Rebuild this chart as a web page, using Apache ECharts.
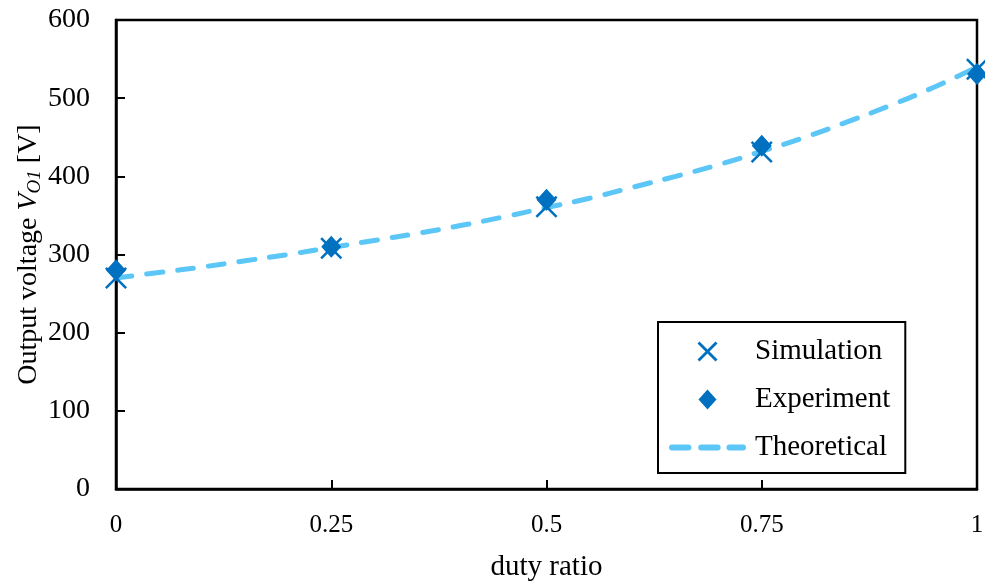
<!DOCTYPE html>
<html>
<head>
<meta charset="utf-8">
<script src="https://cdn.jsdelivr.net/npm/echarts@6/dist/echarts.min.js"></script>
<style>html,body{margin:0;padding:0;background:#fff}#c{width:985px;height:585px}</style>
</head>
<body>
<div id="c"></div>
<script>
var dutyPoints = [0, 0.25, 0.5, 0.75, 1];
var simulation = [270, 308, 361, 431, 537];
var experiment = [280, 310, 370, 439, 531];
var theoryDuty = [0, 0.05, 0.1, 0.15, 0.2, 0.25, 0.3, 0.35, 0.4, 0.45, 0.5, 0.55, 0.6, 0.65, 0.7, 0.75, 0.8, 0.85, 0.9, 0.95, 1];
var theoryV = [270, 277, 284, 292, 300, 309, 318, 327, 337, 348, 360, 372, 386, 400, 415, 432, 450, 470, 491, 514, 540];
var yTicks = [0, 100, 200, 300, 400, 500, 600];
var xTicks = [0, 0.25, 0.5, 0.75, 1];

function pairs(xs, ys) { return xs.map(function (x, i) { return [x, ys[i]]; }); }

var FONT = '"Liberation Serif", "Times New Roman", serif';
var crossPath = 'path://M0,8L8,0L50,42L92,0L100,8L58,50L100,92L92,100L50,58L8,100L0,92L42,50Z';
var crossIcon = 'path://M0,10L10,0L50,40L90,0L100,10L60,50L100,90L90,100L50,60L10,100L0,90L40,50Z';
var diamondIcon = 'path://M9,0L18,10L9,20L0,10Z';
var dashIcon = 'path://M3,0L20,0A3,3 0 0 1 20,6L3,6A3,3 0 0 1 3,0Z' +
  'M33,0L50,0A3,3 0 0 1 50,6L33,6A3,3 0 0 1 33,0Z' +
  'M62,0L76,0A3,3 0 0 1 76,6L62,6A3,3 0 0 1 62,0Z';

var chart = echarts.init(document.getElementById('c'), null, {renderer: 'canvas'});
chart.setOption({
  animation: false,
  backgroundColor: '#fff',
  textStyle: {fontFamily: FONT, color: '#000'},
  grid: {left: 116, right: 8, top: 20, bottom: 96, containLabel: false, outerBoundsMode: 'none',
    show: true, borderColor: '#000', borderWidth: 2.5, backgroundColor: 'transparent'},
  xAxis: {
    type: 'value', min: 0, max: 1, interval: 0.25,
    name: 'duty ratio', nameLocation: 'middle', nameGap: 64, nameMoveOverlap: false,
    nameTextStyle: {fontFamily: FONT, fontSize: 29, color: '#000'},
    axisLine: {show: true, lineStyle: {color: '#000', width: 2.5}},
    axisTick: {show: true, inside: true, length: 9, lineStyle: {color: '#000', width: 2}},
    axisLabel: {fontFamily: FONT, fontSize: 25, color: '#000', margin: 24,
      formatter: function (v) { return String(xTicks[Math.round(v * 4)]); }},
    splitLine: {show: false}
  },
  yAxis: {
    type: 'value', min: 0, max: 600, interval: 100,
    name: 'Output voltage {i|V}{sub|O1} [V]', nameLocation: 'middle', nameGap: 72, nameRotate: 90, nameMoveOverlap: false,
    nameTextStyle: {fontFamily: FONT, fontSize: 28, color: '#000',
      rich: {
        i: {fontFamily: FONT, fontSize: 28, fontStyle: 'italic', color: '#000'},
        sub: {fontFamily: FONT, fontSize: 19, fontStyle: 'italic', color: '#000', verticalAlign: 'bottom', padding: [12, 0, 0, 0]}
      }},
    axisLine: {show: true, lineStyle: {color: '#000', width: 2.5}},
    axisTick: {show: true, inside: true, length: 9, lineStyle: {color: '#000', width: 2}},
    axisLabel: {fontFamily: FONT, fontSize: 28, color: '#000', margin: 26},
    splitLine: {show: false}
  },
  legend: {
    orient: 'vertical', left: 658, top: 322,
    data: [
      {name: 'Simulation', icon: crossIcon, itemStyle: {color: '#0070C0'}},
      {name: 'Experiment', icon: diamondIcon, itemStyle: {color: '#0070C0'}},
      {name: 'Theoretical', icon: dashIcon, itemStyle: {color: '#5CC6F7', borderWidth: 0}}
    ],
    symbolKeepAspect: true,
    itemWidth: 77, itemHeight: 20, itemGap: 19,
    padding: [15, 15, 11, 11],
    borderColor: '#000', borderWidth: 2, backgroundColor: '#fff',
    textStyle: {fontFamily: FONT, fontSize: 29, color: '#000', padding: [0, 0, 0, 4]}
  },
  series: [
    {
      name: 'Theoretical', type: 'line', z: 1, smooth: true, showSymbol: false, symbol: 'none',
      data: pairs(theoryDuty, theoryV),
      lineStyle: {color: '#5CC6F7', width: 5, type: [16, 15], cap: 'round'},
      itemStyle: {color: '#5CC6F7'}
    },
    {
      name: 'Simulation', type: 'scatter', z: 2, symbol: crossPath, symbolSize: 22,
      data: pairs(dutyPoints, simulation),
      itemStyle: {color: '#0070C0', opacity: 1}
    },
    {
      name: 'Experiment', type: 'scatter', z: 3, symbol: 'diamond', symbolSize: [20, 22],
      data: pairs(dutyPoints, experiment),
      itemStyle: {color: '#0070C0', opacity: 1}
    }
  ]
});
</script>
</body>
</html>
